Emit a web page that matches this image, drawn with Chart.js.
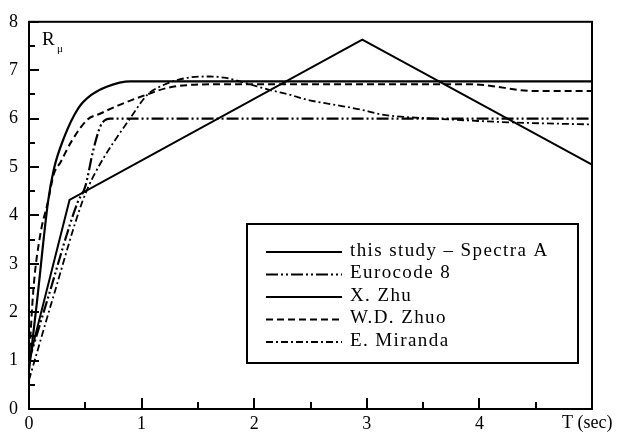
<!DOCTYPE html>
<html>
<head>
<meta charset="utf-8">
<script src="https://cdn.jsdelivr.net/npm/chart.js@4"></script>
<style>
  html, body { margin: 0; padding: 0; background: #fff; }
  #wrap { width: 624px; height: 438px; }
</style>
</head>
<body>
<div id="wrap"><canvas id="chart" width="624" height="438"></canvas></div>
<script>
// Period T (sec) and ductility reduction factor R for each curve

// this study - Spectra A
const studyT = [0, 0.36, 2.96, 5];
const studyR = [1.0, 4.32, 7.63, 5.05];

// Eurocode 8
const ec8T = [0, 0.16, 0.43, 0.5, 0.57, 0.63, 0.67, 0.72, 5];
const ec8R = [1.0, 2.23, 4.26, 4.6, 5.34, 5.82, 5.96, 6.0, 6.0];

// X. Zhu
const zhuT = [0, 0.07, 0.17, 0.22, 0.31, 0.44, 0.56, 0.69, 0.9, 5];
const zhuR = [0.8, 2.2, 4.3, 4.95, 5.6, 6.22, 6.5, 6.66, 6.77, 6.77];

// W.D. Zhuo
const zhuoT = [0, 0.04, 0.1, 0.17, 0.22, 0.28, 0.38, 0.52, 0.63, 0.8, 1.05, 1.22, 1.4, 1.7, 3.9, 4.05, 4.48, 5];
const zhuoR = [1.0, 2.5, 3.6, 4.3, 4.85, 5.1, 5.54, 5.98, 6.1, 6.28, 6.5, 6.63, 6.69, 6.71, 6.71, 6.69, 6.57, 6.57];

// E. Miranda
const mirT = [0, 0.23, 0.47, 0.57, 0.92, 1.05, 1.2, 1.4, 1.6, 1.75, 1.93, 2.14, 2.32, 2.47, 2.7, 2.94, 3.12, 3.3, 3.6, 4.0, 4.3, 4.6, 5];
const mirR = [0.6, 2.43, 4.26, 4.8, 6.08, 6.49, 6.7, 6.84, 6.87, 6.84, 6.73, 6.59, 6.49, 6.39, 6.29, 6.19, 6.09, 6.04, 6.0, 5.95, 5.92, 5.9, 5.88];

// axis tick labels
const xTickLabels = ['0', '1', '2', '3', '4', ''];
const yTickLabels = ['0', '1', '2', '3', '4', '5', '6', '7', '8'];

const SERIF = '"Liberation Serif", "Times New Roman", serif';

function pts(t, r) {
    return t.map((v, i) => ({ x: v, y: r[i] }));
}

// inward major/minor ticks, plot frame, axis labels
const frameAndTicks = {
    id: 'frameAndTicks',
    afterDraw(chart) {
        const { ctx, chartArea: { left, right, top, bottom }, scales: { x, y } } = chart;
        ctx.save();
        ctx.strokeStyle = '#000';
        ctx.lineWidth = 2;
        ctx.strokeRect(left, top, right - left, bottom - top);

        ctx.beginPath();
        for (let v = 0; v <= 8.001; v += 0.5) {
            const py = Math.round(y.getPixelForValue(v));
            const len = Number.isInteger(v) ? 10 : 6;
            ctx.moveTo(left, py);
            ctx.lineTo(left + len, py);
        }
        for (let v = 0; v <= 5.001; v += 0.5) {
            const px = Math.round(x.getPixelForValue(v));
            const len = Number.isInteger(v) ? 11 : 7;
            ctx.moveTo(px, bottom);
            ctx.lineTo(px, bottom - len);
        }
        ctx.stroke();

        ctx.fillStyle = '#000';
        ctx.textBaseline = 'alphabetic';
        ctx.textAlign = 'left';
        ctx.font = '19px ' + SERIF;
        ctx.fillText('R', left + 13, top + 23);
        ctx.font = '11px ' + SERIF;
        ctx.fillText('\u03bc', left + 28, top + 30);

        ctx.font = '18px ' + SERIF;
        ctx.fillText('T (sec)', 562, 428);
        ctx.restore();
    }
};

// boxed legend drawn inside the plot
const boxLegend = {
    id: 'boxLegend',
    afterDraw(chart) {
        const { ctx } = chart;
        const box = { x: 247, y: 224, w: 331, h: 139 };
        ctx.save();
        ctx.fillStyle = '#fff';
        ctx.fillRect(box.x, box.y, box.w, box.h);
        ctx.strokeStyle = '#000';
        ctx.lineWidth = 2;
        ctx.strokeRect(box.x, box.y, box.w, box.h);

        ctx.font = '19px ' + SERIF;
        ctx.textBaseline = 'middle';
        ctx.fillStyle = '#000';
        ctx.letterSpacing = '1.4px';
        chart.data.datasets.forEach((ds, i) => {
            const rowY = 252 + i * 22.5;
            ctx.beginPath();
            ctx.lineWidth = ds.borderWidth;
            ctx.setLineDash(ds.borderDash || []);
            ctx.moveTo(266, rowY);
            ctx.lineTo(342, rowY);
            ctx.stroke();
            ctx.setLineDash([]);
            ctx.fillText(ds.label, 350, rowY - 1);
        });
        ctx.restore();
    }
};

const lineBase = {
    borderColor: '#000',
    backgroundColor: '#000',
    pointRadius: 0,
    fill: false
};

new Chart(document.getElementById('chart'), {
    type: 'line',
    data: {
        datasets: [
            { ...lineBase, label: 'this study \u2013 Spectra A', data: pts(studyT, studyR), borderWidth: 2, tension: 0 },
            { ...lineBase, label: 'Eurocode 8', data: pts(ec8T, ec8R), borderWidth: 2.2, borderDash: [12, 3, 2, 3, 2, 3], cubicInterpolationMode: 'monotone' },
            { ...lineBase, label: 'X. Zhu', data: pts(zhuT, zhuR), borderWidth: 2.2, cubicInterpolationMode: 'monotone' },
            { ...lineBase, label: 'W.D. Zhuo', data: pts(zhuoT, zhuoR), borderWidth: 2, borderDash: [7, 4], cubicInterpolationMode: 'monotone' },
            { ...lineBase, label: 'E. Miranda', data: pts(mirT, mirR), borderWidth: 1.8, borderDash: [7, 3, 2, 3], cubicInterpolationMode: 'monotone' }
        ]
    },
    options: {
        responsive: false,
        animation: false,
        layout: { padding: { top: 15, right: 32, left: 0, bottom: 0 } },
        plugins: {
            legend: { display: false },
            tooltip: { enabled: false }
        },
        scales: {
            x: {
                type: 'linear',
                min: 0,
                max: 5,
                grid: { display: false, drawTicks: false },
                border: { display: false },
                ticks: {
                    stepSize: 1,
                    padding: 4,
                    color: '#000',
                    font: { family: SERIF, size: 18 },
                    maxRotation: 0,
                    callback: (v) => xTickLabels[v] ?? ''
                },
                afterFit(scale) { scale.height = 29; }
            },
            y: {
                min: 0,
                max: 8,
                grid: { display: false, drawTicks: false },
                border: { display: false },
                ticks: {
                    stepSize: 1,
                    padding: 11,
                    color: '#000',
                    font: { family: SERIF, size: 18 },
                    callback: (v) => yTickLabels[v] ?? ''
                },
                afterFit(scale) { scale.width = 29; }
            }
        }
    },
    plugins: [frameAndTicks, boxLegend]
});
</script>
</body>
</html>
